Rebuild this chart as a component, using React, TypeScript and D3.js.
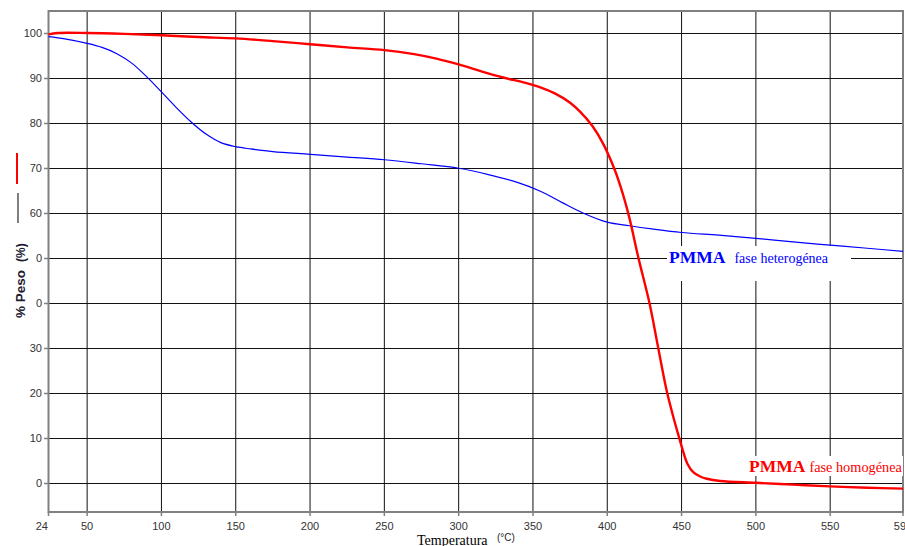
import React from "react";
import * as d3 from "d3";

// Temperature axis ticks (°C) and weight axis ticks (%)
const xTicks = [24, 50, 100, 150, 200, 250, 300, 350, 400, 450, 500, 550, 599];
const xGrid = [50, 100, 150, 200, 250, 300, 350, 400, 450, 500, 550];
const yTicks = [0, 10, 20, 30, 40, 50, 60, 70, 80, 90, 100];
const yTickLabels = ["0", "10", "20", "30", "0", "0", "60", "70", "80", "90", "100"];

// PMMA fase heterogénea (blue)
const hetTemp = [24, 35, 50, 60, 70, 80, 90, 100, 110, 120, 130, 140, 150, 160, 175, 200, 225, 250, 275, 300, 320, 340, 355, 370, 384, 400, 415, 430, 450, 475, 500, 525, 550, 575, 599];
const hetWeight = [99.3, 98.8, 97.8, 96.9, 95.5, 93.4, 90.4, 87.0, 83.5, 80.3, 77.6, 75.7, 74.8, 74.3, 73.7, 73.1, 72.5, 71.9, 71.0, 70.0, 68.6, 66.8, 64.9, 62.3, 60.0, 58.0, 57.2, 56.5, 55.7, 55.1, 54.4, 53.6, 52.9, 52.2, 51.5];

// PMMA fase homogénea (red)
const homTemp = [24, 30, 50, 75, 100, 125, 150, 175, 200, 225, 250, 270, 285, 300, 315, 330, 345, 355, 365, 375, 382, 390, 397, 404.6, 410, 415, 421, 428.4, 434, 440.1, 444.5, 448.4, 450.5, 454, 458, 462.5, 467, 476, 500, 525, 550, 575, 599];
const homWeight = [99.8, 100.1, 100.1, 99.9, 99.6, 99.2, 98.9, 98.3, 97.6, 96.9, 96.3, 95.4, 94.4, 93.1, 91.6, 90.2, 89.0, 88.0, 86.6, 84.6, 82.5, 79.4, 75.6, 70.0, 64.8, 58.8, 50.0, 40.0, 30.5, 20.3, 14.6, 10.0, 7.6, 4.2, 2.3, 1.4, 0.9, 0.4, 0.0, -0.4, -0.8, -1.1, -1.3];

const W = 905;
const H = 546;

export default function App() {
  const x = d3.scaleLinear().domain([24, 599]).range([48.5, 903]);
  const y = d3.scaleLinear().domain([-6.5, 105]).range([512, 11]);

  const line = d3
    .line<[number, number]>()
    .x((d) => x(d[0]))
    .y((d) => y(d[1]))
    .curve(d3.curveCatmullRom.alpha(0.5));

  const het = hetTemp.map((t, i) => [t, hetWeight[i]] as [number, number]);
  const hom = homTemp.map((t, i) => [t, homWeight[i]] as [number, number]);

  const sans = "Arial, 'Liberation Sans', sans-serif";
  const serif = "'Times New Roman', 'Liberation Serif', serif";

  return (
    <div style={{ position: "absolute", left: 0, top: 0 }}>
      <svg width={W} height={H} style={{ display: "block", background: "#fff" }}>
        {/* grid */}
        <g stroke="#111" strokeWidth={1}>
          {yTicks.map((v) => (
            <line key={"h" + v} x1={x(24)} x2={x(599)} y1={Math.round(y(v)) + 0.5} y2={Math.round(y(v)) + 0.5} />
          ))}
          {xGrid.map((v) => (
            <line key={"v" + v} x1={x(v)} x2={x(v)} y1={y(105)} y2={y(-6.5)} />
          ))}
        </g>

        {/* frame */}
        <rect x={x(24)} y={y(105)} width={x(599) - x(24)} height={y(-6.5) - y(105)} fill="none" stroke="#808080" strokeWidth={2} />

        {/* ticks */}
        <g stroke="#808080" strokeWidth={1.5}>
          {yTicks.map((v) => (
            <line key={"yt" + v} x1={44} x2={x(24)} y1={Math.round(y(v)) + 0.5} y2={Math.round(y(v)) + 0.5} />
          ))}
          {xTicks.map((v) => (
            <line key={"xt" + v} x1={x(v)} x2={x(v)} y1={y(-6.5)} y2={y(-6.5) + 4} />
          ))}
        </g>

        {/* tick labels */}
        <g fontFamily={sans} fontSize={11} fill="#333">
          {yTicks.map((v, i) => (
            <text key={"yl" + v} x={42} y={y(v)} dy="0.35em" textAnchor="end">
              {yTickLabels[i]}
            </text>
          ))}
          {xTicks.map((v) => (
            <text key={"xl" + v} x={v === 24 ? 48 : x(v)} y={530} textAnchor={v === 24 ? "end" : "middle"}>
              {v}
            </text>
          ))}
        </g>

        {/* series label backgrounds */}
        <rect x={667} y={246} width={184} height={35} fill="#fff" />
        <rect x={745} y={456} width={158} height={20} fill="#fff" />

        {/* curves */}
        <path d={line(het) || ""} fill="none" stroke="#0000ff" strokeWidth={1.2} />
        <path d={line(hom) || ""} fill="none" stroke="#ff0000" strokeWidth={2.4} />

        {/* series labels */}
        <text x={669} y={263} fontFamily={serif} fill="#0000ff">
          <tspan fontSize={17.5} fontWeight="bold">PMMA</tspan>
          <tspan dx={9} fontSize={14}>fase heterogénea</tspan>
        </text>
        <text x={749} y={472} fontFamily={serif} fill="#ff0000">
          <tspan fontSize={17.5} fontWeight="bold">PMMA</tspan>
          <tspan dx={4} fontSize={14.3}>fase homogénea</tspan>
        </text>

        {/* legend marks */}
        <line x1={17} x2={17} y1={153} y2={184} stroke="#ff0000" strokeWidth={2} />
        <line x1={18} x2={18} y1={193} y2={223} stroke="#808080" strokeWidth={2} />

        {/* axis titles */}
        <text transform="translate(25,318) rotate(-90)" fontFamily={sans} fontSize={13.5} fontWeight="bold" fill="#1c1c30">
          % Peso
        </text>
        <text transform="translate(25,262) rotate(-90)" fontFamily={sans} fontSize={12} fontWeight="bold" fill="#1c1c30">
          (%)
        </text>
        <text x={417} y={545} fontFamily={serif} fontSize={14} fill="#000">
          Temperatura
        </text>
        <text x={497} y={541} fontFamily={sans} fontSize={10} fill="#222">
          (°C)
        </text>
      </svg>
    </div>
  );
}
